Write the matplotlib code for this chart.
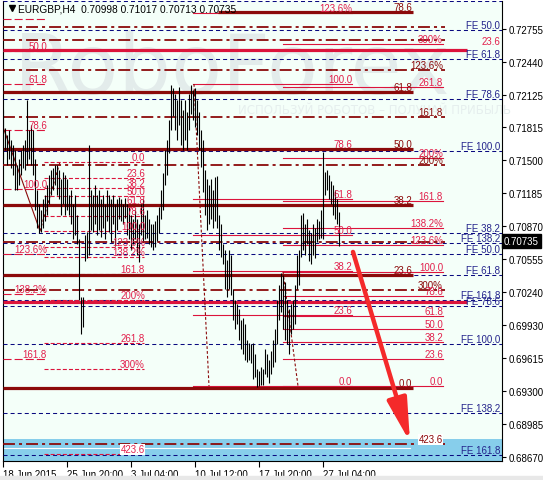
import matplotlib
matplotlib.use("Agg")
import matplotlib.pyplot as plt
import matplotlib.transforms as mtransforms

plt.rcParams['lines.scale_dashes'] = False
plt.rcParams['font.family'] = ['Liberation Sans', 'DejaVu Sans']

# ---------------- data ----------------
header_text = "EURGBP,H4  0.70998 0.71017 0.70713 0.70735"
last_price = 0.70735

bar_high = [
    0.7198, 0.7181, 0.7174, 0.7179, 0.7170, 0.7165, 0.7160, 0.7146, 0.7151, 0.7160,
    0.7165, 0.7170, 0.7208, 0.7179, 0.7184, 0.7179, 0.7151, 0.7122, 0.7108, 0.7103,
    0.7113, 0.7117, 0.7127, 0.7136, 0.7141, 0.7143, 0.7146, 0.7146, 0.7141, 0.7132,
    0.7139, 0.7136, 0.7132, 0.7117, 0.7122, 0.7108, 0.7117, 0.7098, 0.7075, 0.7020,
    0.7020, 0.7079, 0.7082, 0.7165, 0.7122, 0.7117, 0.7127, 0.7117, 0.7122, 0.7113,
    0.7117, 0.7108, 0.7122, 0.7117, 0.7113, 0.7117, 0.7108, 0.7113, 0.7115, 0.7113,
    0.7108, 0.7114, 0.7108, 0.7106, 0.7098, 0.7094, 0.7103, 0.7094, 0.7089, 0.7108,
    0.7113, 0.7098, 0.7103, 0.7094, 0.7089, 0.7089, 0.7092, 0.7098, 0.7106, 0.7122,
    0.7138, 0.7160, 0.7170, 0.7189, 0.7222, 0.7219, 0.7213, 0.7208, 0.7220, 0.7208,
    0.7198, 0.7208, 0.7196, 0.7213, 0.7222, 0.7217, 0.7219, 0.7208, 0.7196, 0.7179,
    0.7170, 0.7141, 0.7132, 0.7127, 0.7132, 0.7122, 0.7134, 0.7135, 0.7098, 0.7089,
    0.7070, 0.7065, 0.7055, 0.7065, 0.7060, 0.7027, 0.7017, 0.7013, 0.7008, 0.6998,
    0.7000, 0.6994, 0.6979, 0.6976, 0.6975, 0.6976, 0.6965, 0.6951, 0.6949, 0.6953,
    0.6951, 0.6970, 0.6965, 0.6960, 0.6968, 0.6979, 0.6989, 0.7017, 0.7031, 0.7043,
    0.7041, 0.7034, 0.7017, 0.7008, 0.7013, 0.7017, 0.7031, 0.7060, 0.7065, 0.7098,
    0.7100, 0.7089, 0.7094, 0.7084, 0.7081, 0.7089, 0.7086, 0.7094, 0.7092, 0.7103,
    0.7158, 0.7139, 0.7141, 0.7136, 0.7130, 0.7127, 0.7122, 0.7113, 0.7101,
]
bar_low = [
    0.7151, 0.7160, 0.7146, 0.7151, 0.7143, 0.7136, 0.7122, 0.7122, 0.7127, 0.7136,
    0.7143, 0.7141, 0.7146, 0.7151, 0.7146, 0.7136, 0.7103, 0.7086, 0.7081, 0.7082,
    0.7086, 0.7092, 0.7098, 0.7108, 0.7117, 0.7122, 0.7127, 0.7117, 0.7113, 0.7098,
    0.7108, 0.7098, 0.7103, 0.7098, 0.7089, 0.7075, 0.7079, 0.7070, 0.7017, 0.6984,
    0.6991, 0.7054, 0.7057, 0.7060, 0.7084, 0.7082, 0.7089, 0.7079, 0.7084, 0.7077,
    0.7086, 0.7075, 0.7092, 0.7082, 0.7072, 0.7089, 0.7068, 0.7084, 0.7094, 0.7092,
    0.7089, 0.7095, 0.7079, 0.7075, 0.7065, 0.7070, 0.7075, 0.7060, 0.7053, 0.7079,
    0.7072, 0.7075, 0.7076, 0.7070, 0.7067, 0.7065, 0.7067, 0.7073, 0.7081, 0.7094,
    0.7103, 0.7127, 0.7136, 0.7157, 0.7179, 0.7192, 0.7179, 0.7170, 0.7184, 0.7165,
    0.7160, 0.7170, 0.7160, 0.7179, 0.7194, 0.7189, 0.7182, 0.7174, 0.7160, 0.7144,
    0.7120, 0.7098, 0.7084, 0.7089, 0.7094, 0.7086, 0.7092, 0.7086, 0.7065, 0.7058,
    0.7051, 0.7027, 0.7020, 0.7027, 0.7022, 0.6998, 0.6989, 0.6994, 0.6979, 0.6970,
    0.6965, 0.6960, 0.6958, 0.6960, 0.6957, 0.6941, 0.6943, 0.6934, 0.6935, 0.6936,
    0.6936, 0.6946, 0.6943, 0.6938, 0.6946, 0.6953, 0.6958, 0.6975, 0.6998, 0.7005,
    0.6989, 0.6979, 0.6975, 0.6965, 0.6984, 0.6989, 0.6994, 0.7027, 0.7031, 0.7058,
    0.7065, 0.7060, 0.7070, 0.7054, 0.7051, 0.7060, 0.7057, 0.7072, 0.7075, 0.7076,
    0.7075, 0.7117, 0.7122, 0.7113, 0.7108, 0.7098, 0.7094, 0.7089, 0.7068,
]

x_tick_pos = [0, 32, 64, 96, 128, 160]
x_tick_labels = ["18 Jun 2015", "25 Jun 20:00", "3 Jul 04:00", "10 Jul 12:00",
                 "17 Jul 20:00", "27 Jul 04:00"]
y_ticks = [0.72755, 0.72440, 0.72125, 0.71815, 0.71500, 0.71185, 0.70870,
           0.70555, 0.70240, 0.69930, 0.69615, 0.69300, 0.68985, 0.68670]

# Fibonacci objects: (price at level 0, price at level 100) and levels
fib1_anchor = (0.71486, 0.70827)
fib1_levels = [0, 23.6, 38.2, 50, 61.8, 78.6, 100, 123.6, 138.2, 161.8, 200, 261.8, 300, 423.6]
fib2_anchor = (0.69347, 0.72230)
fib2_levels = [0, 23.6, 38.2, 50, 61.8, 78.6, 100, 123.6]
fib3_anchor = (0.69347, 0.70436)
fib3_levels = [0, 23.6, 38.2, 50, 61.8, 78.6, 100, 123.6, 138.2, 161.8, 200, 261.8, 300]
fib4_anchor = (0.73843, 0.72650)
fib4_levels = [100, 123.6, 161.8, 200, 261.8, 300, 423.6]
fib4_labeled = [123.6, 161.8, 200, 300, 423.6]
fib5_anchor = (0.73853, 0.71228)
fib5_levels = [38.2, 50, 61.8, 78.6, 100, 123.6, 138.2, 161.8]
fib6_anchor = (0.69328, 0.73900)
fib6_levels = [0, 23.6, 38.2, 50, 61.8, 78.6]

feA_anchor = (0.73900, 0.71591)
feA_levels = [38.2, 50, 61.8, 78.6, 100, 138.2, 161.8]
feB_anchor = (0.71466, 0.69748)
feB_levels = [38.2, 50, 61.8, 78.6, 100, 138.2, 161.8]

thick_red_lines = [0.72555, 0.70149]
extra_dashdot = [0.72774]
white_line = 0.68756
target_band = (0.68842, 0.68600)
trend_line = ((0, 0.71820), (18.5, 0.70827))
arrow_from = (175, 0.70627)
arrow_to = (203.5, 0.68813)

# ---------------- styles ----------------
MAROON = '#8B0A0A'
CRIMSON = '#DC143C'
LCRIMSON = '#E2204C'
NAVY = '#0A0A80'
NAVYTXT = '#24248C'
BG = '#F4FFF9'
FS = 7
YMIN, YMAX = 0.686316, 0.730223

navy_ls = (0, (2.9, 2.2))
dashdot_ls = (0, (8.6, 2.9, 2.2, 2.9))
short_dash = (0, (2.9, 1.5))
mid_dash = (0, (5.8, 2.2))

fig = plt.figure(figsize=(5.43, 4.81), dpi=100)
fig.patch.set_facecolor('white')
ax = fig.add_axes([3 / 543, 19 / 481, 499 / 543, 460 / 481])
ax.set_facecolor(BG)
ax.set_xlim(0, 249.5)
ax.set_ylim(YMIN, YMAX)

# bottom gray strip
fig.patches.append(plt.Rectangle((0, 0), 1, 4 / 481, transform=fig.transFigure,
                                 color='#E8E8E8', zorder=0))

# watermark
ax.text(0.022, 0.80, "RoboForex", transform=ax.transAxes, fontsize=60,
        family='DejaVu Sans', color='#E3ECEB', va='baseline', ha='left', zorder=0.5)
ax.text(0.47, 0.765, "ИСПОЛЬЗУЙ РОБОТОВ – ПОЛУЧАЙ ПРИБЫЛЬ", transform=ax.transAxes,
        fontsize=8.5, family='DejaVu Sans', color='#E6EFEE', va='center', ha='left', zorder=0.5)

# target band
ax.axhspan(target_band[1], target_band[0], color='#87CEEB', zorder=1, lw=0)
ax.plot([0, 203.5], [white_line, white_line], color='white', lw=0.8, zorder=2)


def lev_price(anchor, lev):
    return anchor[0] + (anchor[1] - anchor[0]) * lev / 100.0


def lev_label(lev):
    if lev in (123.6, 138.2, 200, 300):
        return f"{lev:g}%"
    return f"{lev:.1f}"


def label(x, y, s, color, bbox=False):
    if y > YMAX - 0.0008 or y < YMIN:
        return
    kw = dict(fontsize=FS, color=color, ha='right', va='bottom', zorder=6)
    if bbox:
        kw['bbox'] = dict(facecolor='white', edgecolor='none', pad=0.3)
    ax.text(x, y, s, **kw)


# FE navy dashed lines (full width)
for anchor, levels in ((feA_anchor, feA_levels), (feB_anchor, feB_levels)):
    for lev in levels:
        p = lev_price(anchor, lev)
        ax.plot([0, 249.5], [p, p], color=NAVY, lw=0.75, ls=navy_ls, zorder=3)
        label(248.5, p, f"FE {lev:.1f}", NAVYTXT)

# thick crimson horizontals
for p in thick_red_lines:
    ax.plot([0, 232], [p, p], color=CRIMSON, lw=2.3, zorder=3, solid_capstyle='butt')
label(248.5, thick_red_lines[0] + 0.0004, "23.6", LCRIMSON)

# maroon dash-dot fibo (fib4)
for lev in fib4_levels:
    p = lev_price(fib4_anchor, lev)
    ax.plot([0, 221], [p, p], color=MAROON, lw=1.3, ls=dashdot_ls, zorder=3)
    if lev in fib4_labeled:
        label(220, p, lev_label(lev), MAROON, bbox=(lev == 423.6))
for p in extra_dashdot:
    ax.plot([0, 221], [p, p], color=MAROON, lw=1.3, ls=dashdot_ls, zorder=3)

# thick maroon fibo (fib6)
for lev in fib6_levels:
    p = lev_price(fib6_anchor, lev)
    x0 = 107.5 if lev == 78.6 else 0
    ax.plot([x0, 205], [p, p], color=MAROON, lw=2.3, zorder=3.5, solid_capstyle='butt')
    label(204.5, p, lev_label(lev), MAROON)

# fib1 dashed crimson
for lev in fib1_levels:
    p = lev_price(fib1_anchor, lev)
    ax.plot([20.5, 70.5], [p, p], color=CRIMSON, lw=0.8, ls=short_dash, zorder=3.2)
    label(71, p, lev_label(lev), LCRIMSON, bbox=(lev == 423.6))

# fib5 dashed crimson (left)
for lev in fib5_levels:
    p = lev_price(fib5_anchor, lev)
    ax.plot([0, 22], [p, p], color=CRIMSON, lw=0.8, ls=mid_dash, zorder=3.2)
    if lev != 38.2:
        label(22, p, lev_label(lev), LCRIMSON)

# fib2 thin crimson
for lev in fib2_levels:
    p = lev_price(fib2_anchor, lev)
    ax.plot([95, 174.5], [p, p], color=CRIMSON, lw=0.8, zorder=3.2)
    label(174.5, p, lev_label(lev), LCRIMSON)

# fib3 thin crimson
for lev in fib3_levels:
    p = lev_price(fib3_anchor, lev)
    ax.plot([140, 220], [p, p], color=CRIMSON, lw=0.8, zorder=3.2)
    label(220, p, lev_label(lev), LCRIMSON)

# fibo baselines (dotted maroon) and trend line
ax.plot([18.5, 28.5], [fib1_anchor[1], fib1_anchor[0]], color=MAROON, lw=0.8, ls=(0, (2, 1.5)), zorder=3.3)
ax.plot([95.5, 103], [fib2_anchor[1], fib2_anchor[0]], color=MAROON, lw=0.8, ls=(0, (2, 1.5)), zorder=3.3)
ax.plot([140, 147.5], [fib3_anchor[1], fib3_anchor[0]], color=MAROON, lw=0.8, ls=(0, (2, 1.5)), zorder=3.3)
ax.plot([trend_line[0][0], trend_line[1][0]], [trend_line[0][1], trend_line[1][1]],
        color=MAROON, lw=0.8, zorder=3.3)

# price bars
xs = list(range(len(bar_high)))
ax.vlines(xs, bar_low, bar_high, colors='black', lw=0.8, zorder=4)

# forecast arrow
ax.annotate('', xy=arrow_to, xytext=arrow_from,
            arrowprops=dict(arrowstyle='-|>,head_length=1.3,head_width=0.3',
                            mutation_scale=20, color='#F42A2A', lw=3.2,
                            shrinkA=0, shrinkB=0), zorder=7)

# header
ax.plot([0.019], [0.985], marker='v', color='black', markersize=4, transform=ax.transAxes,
        zorder=8, clip_on=False)
ax.text(0.031, 0.9835, header_text, transform=ax.transAxes, fontsize=7.3,
        color='black', va='center', ha='left', zorder=8)

# axes
ax.yaxis.tick_right()
ax.set_yticks(y_ticks)
ax.set_yticklabels([f"{v:.5f}" for v in y_ticks])
ax.set_xticks(x_tick_pos)
ax.set_xticklabels(x_tick_labels)
for lab in ax.get_xticklabels():
    lab.set_ha('left')
ax.tick_params(axis='y', length=3, width=0.8, pad=2, labelsize=FS, colors='black')
ax.tick_params(axis='x', length=4, width=0.8, pad=2, labelsize=FS, colors='black')
for side in ('left', 'right', 'bottom'):
    ax.spines[side].set_color('black')
    ax.spines[side].set_linewidth(0.8)
ax.spines['top'].set_visible(False)

# current price box
trans = mtransforms.blended_transform_factory(ax.transAxes, ax.transData)
ax.text(1.004, last_price, f"{last_price:.5f}", transform=trans, fontsize=FS,
        color='white', va='center', ha='left', zorder=9, clip_on=False,
        bbox=dict(facecolor='black', edgecolor='black', pad=1.5))

fig.savefig("out.png", dpi=100, facecolor='white')
